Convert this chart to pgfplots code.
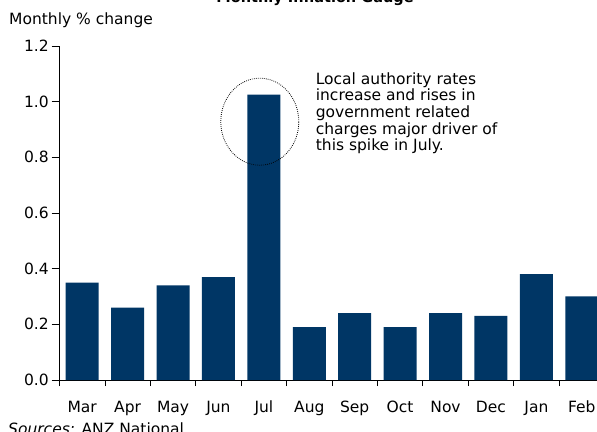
\documentclass[border=0pt]{standalone}
\usepackage{fontspec}
\setmainfont{DejaVu Sans}
\usepackage{pgfplots}
\pgfplotsset{compat=1.18}
\definecolor{navy}{RGB}{0,54,101}
\newcommand{\chartfont}{\fontsize{15.5bp}{18bp}\selectfont}
\begin{document}
\begin{tikzpicture}
\begin{axis}[
    at={(59.5bp,52bp)}, anchor=south west,
    scale only axis, width=545bp, height=334bp,
    xmin=0, xmax=12, ymin=0, ymax=1.2,
    axis x line*=bottom, axis y line*=left,
    axis line style={-, line width=0.8bp},
    xtick={0,...,12}, x tick label as interval,
    xticklabels={Mar,Apr,May,Jun,Jul,Aug,Sep,Oct,Nov,Dec,Jan,Feb},
    ytick={0,0.2,0.4,0.6,0.8,1.0,1.2},
    yticklabel style={xshift=-3bp, /pgf/number format/.cd, fixed, fixed zerofill, precision=1},
    /pgf/number format/assume math mode=true,
    tick align=outside,
    xtick style={/pgfplots/major tick length=6bp, black, line width=0.8bp},
    ytick style={/pgfplots/major tick length=8bp, black, line width=0.8bp},
    xticklabel style={anchor=base, yshift=-28bp},
    font=\chartfont,
    clip=false,
]
\addplot[ybar, bar width=33bp, fill=navy, draw=none] coordinates {
    (0.5,0.35) (1.5,0.26) (2.5,0.34) (3.5,0.37) (4.5,1.025) (5.5,0.19)
    (6.5,0.24) (7.5,0.19) (8.5,0.24) (9.5,0.23) (10.5,0.38) (11.5,0.30)
};
\draw[line width=0.8bp, dash pattern=on 0.8bp off 1.2bp]
    (axis cs:4.41,0.928) ellipse [x radius=39bp, y radius=43.5bp];
\node[anchor=north west, align=left, inner sep=0pt,
      font=\fontsize{15.5bp}{16.7bp}\selectfont]
    at (axis cs:5.64,1.106)
    {Local authority rates\\increase and rises in\\government related\\charges major driver of\\this spike in July.};
\end{axis}
\node[anchor=base, font=\bfseries\fontsize{14.5bp}{17bp}\selectfont] at (315bp,429bp) {Monthly Inflation Gauge};
\node[anchor=base west, inner sep=0pt, font=\chartfont] at (9bp,407bp) {Monthly \% change};
\node[anchor=base west, inner sep=0pt, font=\chartfont] at (8bp,-2bp) {\textit{Sources:} ANZ National};
\pgfresetboundingbox
\useasboundingbox (0,0) rectangle (597bp,432bp);
\end{tikzpicture}
\end{document}
